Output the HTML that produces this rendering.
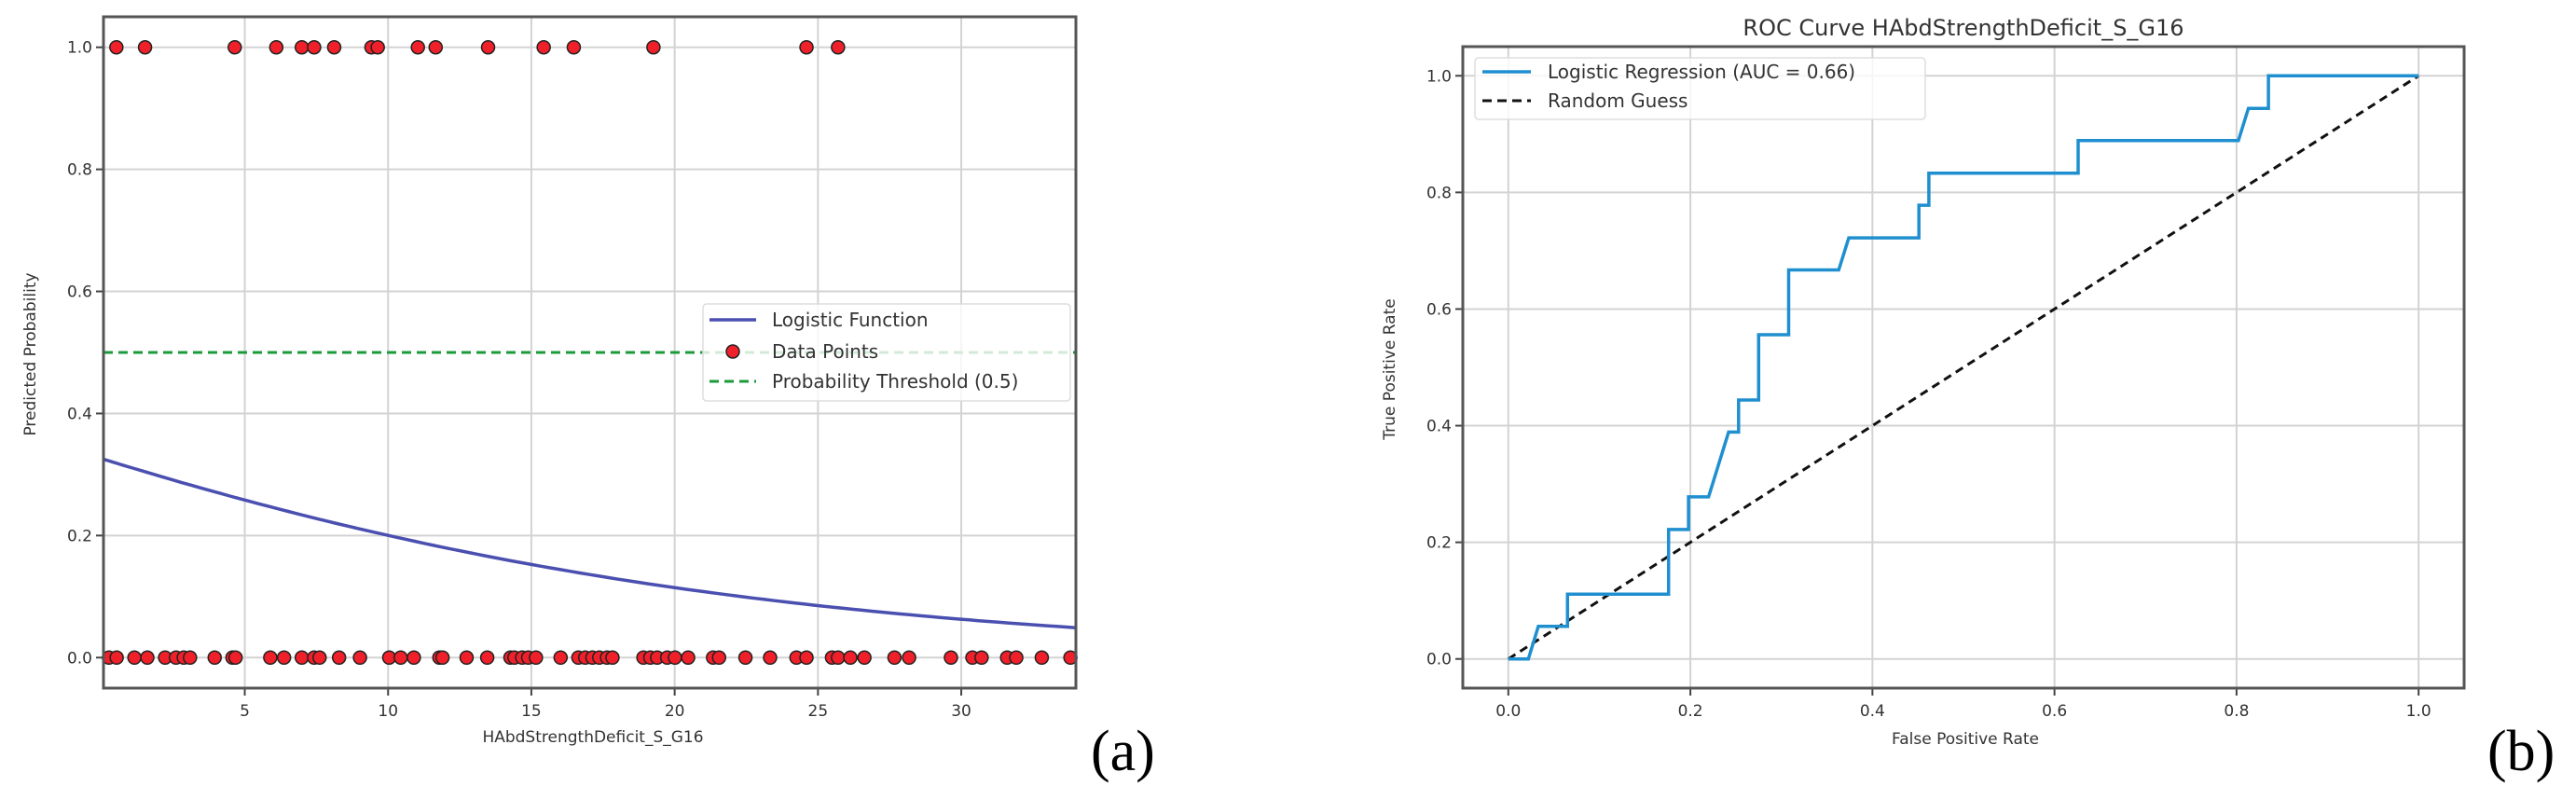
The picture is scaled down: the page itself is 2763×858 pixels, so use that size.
<!DOCTYPE html>
<html><head><meta charset="utf-8"><style>
body{margin:0;background:#fff}
svg text{font-family:"DejaVu Sans","Liberation Sans",sans-serif;fill:#333}
</style></head><body>
<svg id="s" width="2763" height="853" viewBox="0 0 2763 853" xmlns="http://www.w3.org/2000/svg"></svg>
<script>
// ---- Chart (a) data ----
const posX = [0.52,1.52,4.65,6.1,6.99,7.42,8.12,9.42,9.64,11.04,11.66,13.49,15.43,16.48,19.26,24.6,25.7];
const negX = [0.26,0.53,1.15,1.6,2.22,2.6,2.87,3.09,3.95,4.57,4.68,5.89,6.37,6.99,7.42,7.61,8.29,9.02,10.04,10.44,10.9,11.79,11.9,12.74,13.46,14.27,14.41,14.68,14.89,15.16,16.02,16.64,16.88,17.13,17.37,17.64,17.83,18.91,19.15,19.39,19.74,20.01,20.47,21.34,21.55,22.47,23.33,24.25,24.6,25.49,25.7,26.13,26.62,27.67,28.18,29.64,30.39,30.71,31.6,31.92,32.81,33.81];
const logitCoef = [-0.726, -0.0659];
const threshold = 0.5;
const aXTicks = [5,10,15,20,25,30];
const aYTicks = [0.0,0.2,0.4,0.6,0.8,1.0];
// ---- Chart (b) data ----
const fpr = [0,0.022,0.033,0.065,0.065,0.176,0.176,0.198,0.198,0.22,0.242,0.253,0.253,0.275,0.275,0.308,0.308,0.363,0.374,0.451,0.451,0.462,0.462,0.626,0.626,0.802,0.813,0.835,0.835,1];
const tpr = [0,0,0.056,0.056,0.111,0.111,0.222,0.222,0.278,0.278,0.389,0.389,0.444,0.444,0.556,0.556,0.667,0.667,0.722,0.722,0.778,0.778,0.833,0.833,0.889,0.889,0.944,0.944,1,1];
const bTicks = [0.0,0.2,0.4,0.6,0.8,1.0];

const S=document.getElementById('s');const NS='http://www.w3.org/2000/svg';
function mk(t,a,txt){const e=document.createElementNS(NS,t);for(const k in a)e.setAttribute(k,a[k]);if(txt!==undefined)e.textContent=txt;S.appendChild(e);return e;}

// chart a scales
const aL=111,aR=1154,aT=18,aB=738,ax0=0.07,ax1=34,ay0=-0.05,ay1=1.05;
const axS=v=>aL+(v-ax0)/(ax1-ax0)*(aR-aL);
const ayS=v=>aB-(v-ay0)/(ay1-ay0)*(aB-aT);
aXTicks.forEach(t=>{let e=mk('line',{x1:axS(t),x2:axS(t),y1:aT,y2:aB,stroke:'#d3d3d3','stroke-width':2});

e=mk('line',{x1:axS(t),x2:axS(t),y1:aB,y2:aB+8,stroke:'#444','stroke-width':2});
e=mk('text',{x:axS(t),y:aB+30,'font-size':17,'text-anchor':'middle'},t);
});
aYTicks.forEach(t=>{let e=mk('line',{x1:aL,x2:aR,y1:ayS(t),y2:ayS(t),stroke:'#d3d3d3','stroke-width':2});

mk('line',{x1:aL-8,x2:aL,y1:ayS(t),y2:ayS(t),stroke:'#444','stroke-width':2});
e=mk('text',{x:aL-12,y:ayS(t)+6,'font-size':17,'text-anchor':'end'},t.toFixed(1));
});
// threshold
let e=mk('line',{x1:aL,x2:aR,y1:ayS(threshold),y2:ayS(threshold),stroke:'#1a9a3a','stroke-width':3,'stroke-dasharray':'10 6'});

// logistic curve
let d='';for(let i=0;i<=100;i++){const x=ax0+(ax1-ax0)*i/100;const p=1/(1+Math.exp(-(logitCoef[0]+logitCoef[1]*x)));d+=(i?'L':'M')+axS(x).toFixed(1)+' '+ayS(p).toFixed(1);}
e=mk('path',{d:d,fill:'none',stroke:'#4a4fb0','stroke-width':3.5});

posX.forEach(x=>{const c=mk('circle',{cx:axS(x),cy:ayS(1),r:7,fill:'#f0202a',stroke:'#222','stroke-width':1.5});
});
negX.forEach(x=>{const c=mk('circle',{cx:axS(x),cy:ayS(0),r:7,fill:'#f0202a',stroke:'#222','stroke-width':1.5});
});
e=mk('rect',{x:aL,y:aT,width:aR-aL,height:aB-aT,fill:'none',stroke:'#555','stroke-width':3});

// legend a
e=mk('rect',{x:754,y:326,width:394,height:104,rx:4,fill:'rgba(255,255,255,0.8)',stroke:'#ddd','stroke-width':1.5});

mk('line',{x1:761,x2:811,y1:343,y2:343,stroke:'#4a4fb0','stroke-width':3.5});
mk('circle',{cx:786,cy:377,r:7,fill:'#f0202a',stroke:'#222','stroke-width':1.5});
mk('line',{x1:761,x2:811,y1:409,y2:409,stroke:'#1a9a3a','stroke-width':3,'stroke-dasharray':'10 6'});
[['Logistic Function',343],['Data Points',377],['Probability Threshold (0.5)',409]].forEach(([t,y])=>{const x=mk('text',{x:828,y:y+7,'font-size':20},t);
});
e=mk('text',{x:636,y:796,'font-size':17,'text-anchor':'middle'},'HAbdStrengthDeficit_S_G16');

e=mk('text',{x:38,y:380,'font-size':17,'text-anchor':'middle',transform:'rotate(-90 38 380)'},'Predicted Probability');

e=mk('text',{x:1170,y:826,'font-size':62,'font-family':'Liberation Serif, serif',style:'font-family:"Liberation Serif",serif;fill:#000'},'(a)');


// chart b
const bL=1569,bR=2643,bT=50,bB=738,b0=-0.05,b1=1.05;
const bxS=v=>bL+(v-b0)/(b1-b0)*(bR-bL);
const byS=v=>bB-(v-b0)/(b1-b0)*(bB-bT);
bTicks.forEach(t=>{let g=mk('line',{x1:bxS(t),x2:bxS(t),y1:bT,y2:bB,stroke:'#d3d3d3','stroke-width':2});

g=mk('line',{x1:bL,x2:bR,y1:byS(t),y2:byS(t),stroke:'#d3d3d3','stroke-width':2});

mk('line',{x1:bxS(t),x2:bxS(t),y1:bB,y2:bB+8,stroke:'#444','stroke-width':2});
mk('line',{x1:bL-8,x2:bL,y1:byS(t),y2:byS(t),stroke:'#444','stroke-width':2});
g=mk('text',{x:bxS(t),y:bB+30,'font-size':17,'text-anchor':'middle'},t.toFixed(1));

g=mk('text',{x:bL-12,y:byS(t)+6,'font-size':17,'text-anchor':'end'},t.toFixed(1));
});
e=mk('line',{x1:bxS(0),y1:byS(0),x2:bxS(1),y2:byS(1),stroke:'#111','stroke-width':3,'stroke-dasharray':'9 6'});

d=fpr.map((f,i)=>(i?'L':'M')+bxS(f).toFixed(1)+' '+byS(tpr[i]).toFixed(1)).join('');
e=mk('path',{d:d,fill:'none',stroke:'#1f8fcf','stroke-width':3.5});

e=mk('rect',{x:bL,y:bT,width:bR-bL,height:bB-bT,fill:'none',stroke:'#555','stroke-width':3});

e=mk('rect',{x:1582,y:62,width:483,height:66,rx:4,fill:'rgba(255,255,255,0.8)',stroke:'#ddd','stroke-width':1.5});

mk('line',{x1:1590,x2:1642,y1:77,y2:77,stroke:'#1f8fcf','stroke-width':3.5});
mk('line',{x1:1590,x2:1642,y1:108,y2:108,stroke:'#111','stroke-width':3,'stroke-dasharray':'10 6'});
[['Logistic Regression (AUC = 0.66)',77],['Random Guess',108]].forEach(([t,y])=>{const x=mk('text',{x:1660,y:y+7,'font-size':20},t);
});
e=mk('text',{x:2106,y:38,'font-size':24,'text-anchor':'middle'},'ROC Curve HAbdStrengthDeficit_S_G16');

e=mk('text',{x:2108,y:798,'font-size':17,'text-anchor':'middle'},'False Positive Rate');

e=mk('text',{x:1496,y:396,'font-size':17,'text-anchor':'middle',transform:'rotate(-90 1496 396)'},'True Positive Rate');

e=mk('text',{x:2668,y:826,'font-size':62,style:'font-family:"Liberation Serif",serif;fill:#000'},'(b)');

</script>
</body></html>
